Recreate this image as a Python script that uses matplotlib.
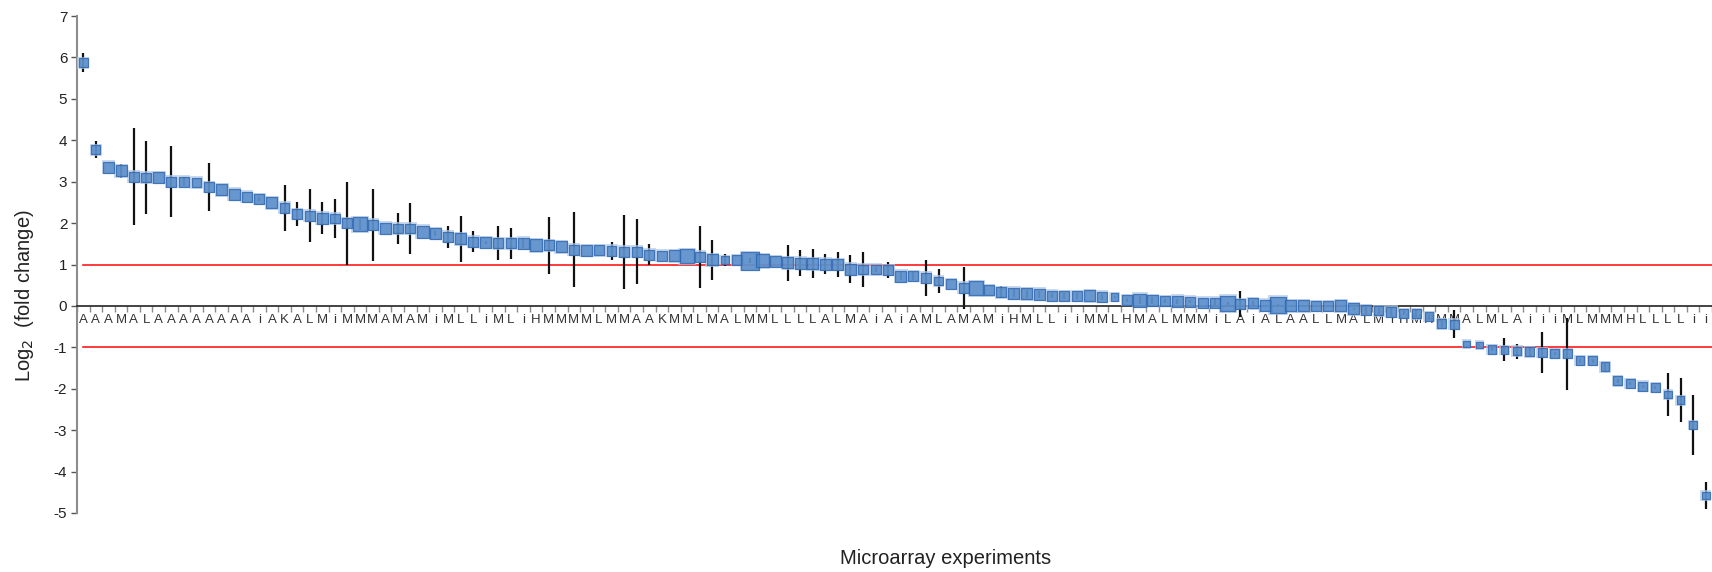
import matplotlib
matplotlib.use("Agg")
import matplotlib.pyplot as plt
import numpy as np

plt.rcParams['font.family'] = ['Liberation Sans', 'DejaVu Sans']
plt.rcParams['axes.unicode_minus'] = False

# category labels (one per microarray experiment)
labels = list("AAAMALAAAAAAAAiAKALMiMMMAMAMiMLLiMLiHMMMMLMMAA"
              "KMMLMALMMLLLLALMAiAiAML"
              "AMAMiHMLLiiMMLHMALMMMiL"
              "AiALAALLMALMiHMHMMALMLA"
              "iiiMLMMMHLLLLii")

# log2 fold change
values = [5.87, 3.77, 3.35, 3.26, 3.12, 3.10, 3.10, 3.00, 3.00, 2.98,
          2.87, 2.80, 2.70, 2.64, 2.58, 2.49, 2.37, 2.22, 2.18, 2.12,
          2.11, 2.00, 1.97, 1.96, 1.88, 1.87, 1.87, 1.79, 1.75, 1.67,
          1.62, 1.55, 1.53, 1.51, 1.51, 1.51, 1.46, 1.46, 1.43, 1.36,
          1.34, 1.34, 1.33, 1.31, 1.31, 1.24, 1.21, 1.21, 1.20, 1.19,
          1.11, 1.11, 1.11, 1.09, 1.09, 1.07, 1.04, 1.03, 1.02, 1.01,
          1.00, 0.89, 0.88, 0.88, 0.87, 0.72, 0.72, 0.68, 0.60, 0.53,
          0.44, 0.43, 0.38, 0.33, 0.31, 0.29, 0.28, 0.25, 0.24, 0.24,
          0.24, 0.22, 0.22, 0.14, 0.14, 0.13, 0.12, 0.11, 0.10, 0.08,
          0.08, 0.06, 0.05, 0.06, 0.02, 0.02, 0.00, 0.00, 0.00, 0.00,
          0.00, -0.07, -0.10, -0.12, -0.14, -0.18, -0.19, -0.26, -0.43, -0.44,
          -0.92, -0.94, -1.05, -1.06, -1.09, -1.11, -1.12, -1.15, -1.15, -1.32,
          -1.32, -1.47, -1.81, -1.87, -1.94, -1.97, -2.14, -2.28, -2.87, -4.58]

# error (half length of bar)
errors = [0.23, 0.20, 0.00, 0.17, 1.17, 0.87, 0.00, 0.86, 0.11, 0.00,
          0.58, 0.00, 0.00, 0.00, 0.05, 0.00, 0.55, 0.29, 0.64, 0.39,
          0.48, 1.00, 0.14, 0.87, 0.00, 0.37, 0.62, 0.00, 0.07, 0.27,
          0.55, 0.26, 0.04, 0.41, 0.38, 0.10, 0.00, 0.69, 0.00, 0.90,
          0.00, 0.00, 0.22, 0.89, 0.78, 0.25, 0.00, 0.00, 0.00, 0.75,
          0.48, 0.15, 0.00, 0.06, 0.00, 0.00, 0.43, 0.31, 0.35, 0.24,
          0.29, 0.33, 0.43, 0.05, 0.20, 0.10, 0.10, 0.44, 0.29, 0.00,
          0.51, 0.00, 0.00, 0.15, 0.10, 0.10, 0.08, 0.07, 0.07, 0.07,
          0.00, 0.07, 0.03, 0.04, 0.10, 0.08, 0.04, 0.06, 0.04, 0.00,
          0.08, 0.03, 0.31, 0.05, 0.00, 0.02, 0.00, 0.00, 0.00, 0.00,
          0.00, 0.03, 0.10, 0.07, 0.10, 0.05, 0.08, 0.07, 0.07, 0.33,
          0.00, 0.03, 0.05, 0.28, 0.18, 0.11, 0.49, 0.03, 0.87, 0.05,
          0.05, 0.10, 0.04, 0.04, 0.04, 0.04, 0.52, 0.53, 0.72, 0.33]

# relative marker size (px)
sizes = [8, 8, 10, 10, 9, 9, 10, 9, 9, 9,
         9, 10, 10, 9, 9, 10, 9, 9, 9, 10,
         9, 9, 13, 9, 10, 9, 9, 11, 10, 9,
         10, 9, 10, 9, 9, 10, 11, 9, 10, 9,
         10, 9, 9, 9, 9, 9, 9, 10, 13, 9,
         10, 7, 9, 16, 12, 10, 10, 10, 10, 10,
         10, 10, 9, 9, 9, 10, 9, 9, 8, 9,
         9, 13, 9, 9, 10, 10, 10, 9, 9, 9,
         10, 9, 7, 9, 12, 10, 9, 10, 9, 9,
         9, 14, 9, 9, 10, 15, 10, 10, 9, 9,
         10, 10, 9, 8, 9, 8, 8, 8, 8, 8,
         6, 6, 8, 7, 8, 8, 8, 8, 8, 8,
         8, 8, 8, 8, 8, 8, 7, 7, 7, 7]

assert len(labels) == len(values) == len(errors) == len(sizes) == 130

fig = plt.figure(figsize=(17.12, 5.72), dpi=100)
ax = fig.add_axes([77 / 1712, 1 - 513 / 572, 1 - 77 / 1712, (513 - 16) / 572])

x = np.arange(len(values))
vals = np.array(values)
errs = np.array(errors)
sz = np.array(sizes) * 0.72 * 1.1  # px -> pt

ax.axhline(1, xmin=0.5 / 130, xmax=1, color='#FF1A1A', lw=1.2, zorder=1)
ax.axhline(-1, xmin=0.5 / 130, xmax=1, color='#FF1A1A', lw=1.2, zorder=1)

mask = errs > 0
ax.errorbar(x[mask], vals[mask], yerr=errs[mask], fmt='none', ecolor='#111111',
            elinewidth=1.6, capsize=0, zorder=2)

# halo
ax.scatter(x, vals, s=(sz + 2.0) ** 2, marker='s', color='#B3CBEA', alpha=0.7,
           linewidths=0, zorder=3)
ax.scatter(x, vals, s=sz ** 2, marker='s', facecolor='#4F86C6', alpha=0.8,
           edgecolor='#2C64AE', linewidths=0.9, zorder=4)

ax.set_xlim(-0.5, len(values) - 0.5)
ax.set_ylim(-5, 7)

ax.spines['top'].set_visible(False)
ax.spines['right'].set_visible(False)
ax.spines['bottom'].set_position(('data', 0))
ax.spines['bottom'].set_color('#222222')
ax.spines['bottom'].set_linewidth(1.2)
ax.spines['left'].set_color('#8C8C8C')
ax.spines['left'].set_linewidth(1.5)

ax.set_yticks(range(-5, 8))
ax.tick_params(axis='y', direction='out', length=4, width=1, color='#555555',
               labelsize=11, pad=3, labelcolor='#222222')

ax.set_xticks(x)
ax.set_xticklabels(labels)
ax.set_xticks(np.arange(-0.5, len(values)), minor=True)
ax.tick_params(axis='x', which='major', length=0, pad=6, labelsize=9.5,
               labelcolor='#333333')
ax.tick_params(axis='x', which='minor', length=4, width=1, color='#8C8C8C',
               direction='out')

fig.text(25 / 1712, 1 - 296 / 572, r'Log$_2$  (fold change)', rotation=90,
         ha='center', va='center', fontsize=14.5, color='#222222')
fig.text(946 / 1712, 1 - 559 / 572, 'Microarray experiments', ha='center',
         va='center', fontsize=14.5, color='#222222')

fig.savefig('out.png', dpi=100)
